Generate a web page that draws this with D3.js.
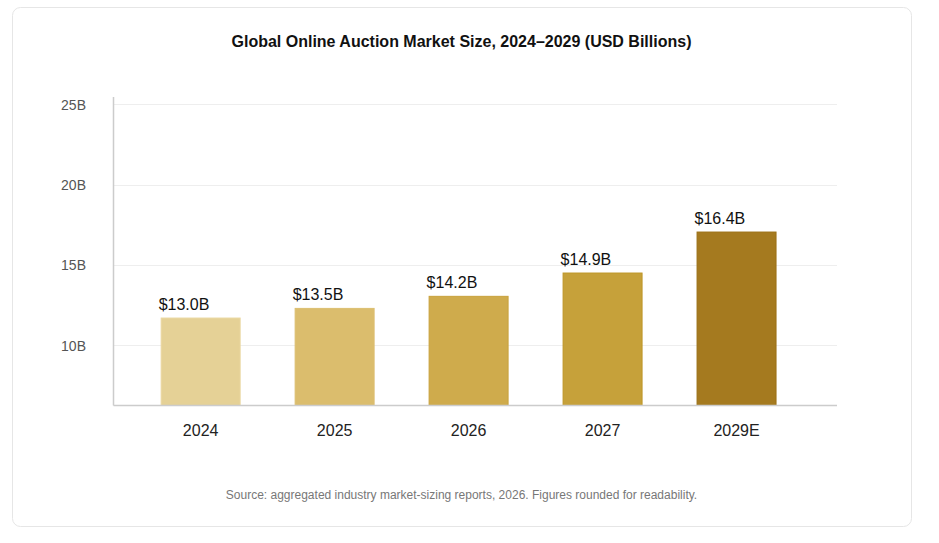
<!DOCTYPE html>
<html lang="en">
<head>
  <meta charset="UTF-8">
  <title>Global Online Auction Market Size</title>
  <script src="https://cdn.jsdelivr.net/npm/d3@7.8.5/dist/d3.min.js"></script>
  <style>
    body { margin: 0; background: #fff; font-family: "Liberation Sans", Arial, sans-serif; }
    svg { display: block; }
  </style>
</head>
<body>
  <svg id="chart"></svg>
  <script>
    // data
    const years = ["2024", "2025", "2026", "2027", "2029E"];
    const barValues = [11.7, 12.3, 13.05, 14.5, 17.05];
    const valueLabels = ["$13.0B", "$13.5B", "$14.2B", "$14.9B", "$16.4B"];
    const yTicks = [10, 15, 20, 25];
    const barFills = ["#e5d196", "#dbbd6d", "#cfab4c", "#c6a13a", "#a57a1f"];
    const barStrokes = ["#ead7a0", "#dcbf70", "#c9a23c", "#be9626", "#9b7016"];

    const width = 939, height = 543;
    const svg = d3.select("#chart").attr("width", width).attr("height", height);

    // card
    svg.append("rect")
      .attr("x", 12.5).attr("y", 7.5)
      .attr("width", 899).attr("height", 519)
      .attr("rx", 8)
      .attr("fill", "#fff")
      .attr("stroke", "#e6e6e6");

    svg.append("text")
      .attr("x", 461.5).attr("y", 47)
      .attr("text-anchor", "middle")
      .attr("font-size", 16).attr("font-weight", "bold")
      .attr("fill", "#111")
      .text("Global Online Auction Market Size, 2024\u20132029 (USD Billions)");

    const plotLeft = 113.5, plotRight = 837, plotTop = 97, plotBottom = 405.5;

    const y = d3.scaleLinear().domain([6.26, 25.45]).range([plotBottom, plotTop]);
    const x = d3.scaleBand().domain(years)
      .range([plotLeft, 823.7])
      .paddingInner(0.403).paddingOuter(0.352);

    // grid
    svg.append("g")
      .selectAll("line")
      .data(yTicks)
      .join("line")
      .attr("x1", plotLeft).attr("x2", plotRight)
      .attr("y1", d => Math.round(y(d)) + 0.5).attr("y2", d => Math.round(y(d)) + 0.5)
      .attr("stroke", "#eeeeee");

    svg.append("g")
      .selectAll("text")
      .data(yTicks)
      .join("text")
      .attr("x", 86).attr("y", d => y(d))
      .attr("dy", "0.38em")
      .attr("text-anchor", "end")
      .attr("font-size", 14)
      .attr("fill", "#555")
      .text(d => d + "B");

    // bars
    svg.append("g")
      .selectAll("rect")
      .data(years)
      .join("rect")
      .attr("x", d => x(d) + 0.5)
      .attr("y", (d, i) => y(barValues[i]))
      .attr("width", x.bandwidth() - 1)
      .attr("height", (d, i) => plotBottom - y(barValues[i]))
      .attr("fill", (d, i) => barFills[i])
      .attr("stroke", (d, i) => barStrokes[i]);

    svg.append("g")
      .selectAll("text")
      .data(years)
      .join("text")
      .attr("x", d => x(d) - 2)
      .attr("y", (d, i) => y(barValues[i]) - 8)
      .attr("font-size", 16)
      .attr("fill", "#111")
      .text((d, i) => valueLabels[i]);

    // axes
    svg.append("line")
      .attr("x1", plotLeft).attr("x2", plotLeft)
      .attr("y1", plotTop).attr("y2", plotBottom)
      .attr("stroke", "#cccccc").attr("stroke-width", 1.5);
    svg.append("line")
      .attr("x1", plotLeft).attr("x2", plotRight)
      .attr("y1", plotBottom).attr("y2", plotBottom)
      .attr("stroke", "#cccccc").attr("stroke-width", 1.5);

    svg.append("g")
      .selectAll("text")
      .data(years)
      .join("text")
      .attr("x", d => x(d) + x.bandwidth() / 2)
      .attr("y", 436)
      .attr("text-anchor", "middle")
      .attr("font-size", 16)
      .attr("fill", "#222")
      .text(d => d);

    svg.append("text")
      .attr("x", 461.5).attr("y", 499)
      .attr("text-anchor", "middle")
      .attr("font-size", 12)
      .attr("fill", "#777")
      .text("Source: aggregated industry market-sizing reports, 2026. Figures rounded for readability.");
  </script>
</body>
</html>
